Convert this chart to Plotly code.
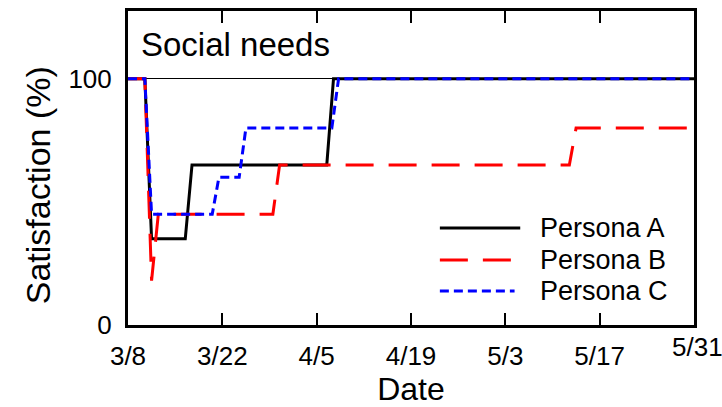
import plotly.graph_objects as go

# ---- data ----
dates_a = ["2020-03-08 00:00", "2020-03-10 12:00", "2020-03-11 12:00", "2020-03-16 12:00",
           "2020-03-17 12:00", "2020-04-06 12:00", "2020-04-07 12:00", "2020-05-31 00:00"]
values_a = [100, 100, 35, 35, 65, 65, 100, 100]

dates_b = ["2020-03-08 00:00", "2020-03-10 12:00", "2020-03-11 12:00", "2020-03-12 12:00",
           "2020-03-29 12:00", "2020-03-30 12:00", "2020-05-12 12:00", "2020-05-13 12:00",
           "2020-05-31 00:00"]
values_b = [100, 100, 18, 45, 45, 65, 65, 80, 80]

dates_c = ["2020-03-08 00:00", "2020-03-10 12:00", "2020-03-11 12:00", "2020-03-20 12:00",
           "2020-03-21 12:00", "2020-03-24 12:00", "2020-03-25 12:00", "2020-04-07 06:00",
           "2020-04-08 06:00", "2020-05-31 00:00"]
values_c = [100, 100, 45, 45, 60, 60, 80, 80, 100, 100]

series_names = ["Persona A", "Persona B", "Persona C"]
series_colors = ["#000000", "#FF0000", "#0000FF"]
series_dash = ["solid", "28px,15px", "9px,5px"]

tick_dates = ["2020-03-08", "2020-03-22", "2020-04-05", "2020-04-19",
              "2020-05-03", "2020-05-17", "2020-05-31"]
tick_labels = ["3/8", "3/22", "4/5", "4/19", "5/3", "5/17", "5/31"]

y_ticks = [0, 100]
y_labels = ["0", "100"]

FONT = "Liberation Sans, Arial, sans-serif"

fig = go.Figure()
for name, xs, ys, col, dash in zip(series_names, [dates_a, dates_b, dates_c],
                                    [values_a, values_b, values_c],
                                    series_colors, series_dash):
    fig.add_trace(go.Scatter(x=xs, y=ys, mode="lines", name=name, showlegend=False,
                             line=dict(color=col, width=3, dash=dash)))

# custom legend (long line samples like the reference)
leg_y = [0.309, 0.207, 0.108]
leg_x1 = [0.693, 0.678, 0.683]
for name, col, dash, yy, x1 in zip(series_names, series_colors, series_dash, leg_y, leg_x1):
    fig.add_shape(type="line", xref="paper", yref="paper", x0=0.551, x1=x1, y0=yy, y1=yy,
                  line=dict(color=col, width=3, dash=dash))
    fig.add_annotation(xref="paper", yref="paper", x=0.724, y=yy, text=name,
                       showarrow=False, xanchor="left", yanchor="middle",
                       font=dict(family=FONT, size=27, color="black"))

fig.add_annotation(xref="paper", yref="paper", x=0.019, y=0.892, text="Social needs",
                   showarrow=False, xanchor="left", yanchor="middle",
                   font=dict(family=FONT, size=33, color="black"))

# y-axis title (sits a little below the plot centre in the reference)
fig.add_annotation(xref="paper", yref="paper", x=-0.159, y=0.445, text="Satisfaction (%)",
                   textangle=-90, showarrow=False, xanchor="center", yanchor="middle",
                   font=dict(family=FONT, size=34, color="black"))

# last date label sits slightly higher in the reference
fig.add_annotation(xref="x", yref="paper", x=tick_dates[-1], y=0, yshift=-22, xshift=3,
                   text=tick_labels[-1], showarrow=False, xanchor="center", yanchor="middle",
                   font=dict(family=FONT, size=26, color="black"))

fig.update_layout(
    width=722, height=407,
    margin=dict(l=128, r=28, t=11, b=82),
    paper_bgcolor="white", plot_bgcolor="white",
    font=dict(family=FONT, color="black"),
)
fig.update_xaxes(
    type="date", range=[tick_dates[0], tick_dates[-1]],
    tickvals=tick_dates[:-1], ticktext=tick_labels[:-1],
    ticks="inside", ticklen=12, tickwidth=2, tickcolor="black",
    showline=True, linewidth=3, linecolor="black", mirror="ticks",
    showgrid=False, zeroline=False,
    tickfont=dict(family=FONT, size=26, color="black"),
    ticklabelstandoff=6,
    title=dict(text="Date", font=dict(family=FONT, size=32, color="black"), standoff=8),
    automargin=False,
)
fig.update_yaxes(
    range=[0, 127.5], tickvals=y_ticks, ticktext=y_labels, ticks="",
    showline=True, linewidth=3, linecolor="black", mirror=True,
    showgrid=True, gridcolor="black", gridwidth=1, zeroline=False,
    tickfont=dict(family=FONT, size=26, color="black"),
    ticklabelstandoff=8,
    automargin=False,
)

fig.write_html("out.html")
